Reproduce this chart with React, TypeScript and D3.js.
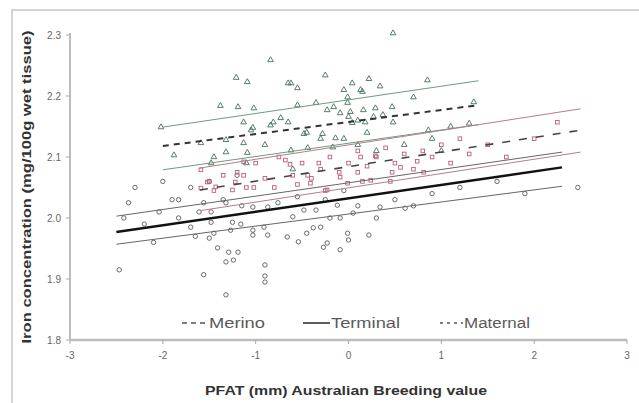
import React from "react";
import * as d3 from "d3";

// fitted lines: [x start, x end] and y at both ends
const merinoX = [-2.0, 1.4];
const merinoFit = [2.118, 2.185];
const merinoUpper = [2.149, 2.225];
const merinoLower = [2.079, 2.153];

const maternalX = [-1.6, 2.5];
const maternalFit = [2.046, 2.144];
const maternalUpper = [2.082, 2.179];
const maternalLower = [2.012, 2.108];

const terminalX = [-2.5, 2.3];
const terminalFit = [1.977, 2.083];
const terminalUpper = [2.003, 2.108];
const terminalLower = [1.957, 2.052];

// observed points [PFAT, iron]
const terminalPts = [
  [-2.47, 1.915], [-2.42, 2.0], [-2.37, 2.025], [-2.3, 2.05], [-2.2, 1.99], [-2.1, 1.96],
  [-2.04, 2.01], [-2.0, 2.06], [-1.9, 2.03], [-1.83, 2.03], [-1.83, 2.0], [-1.7, 1.985],
  [-1.7, 2.05], [-1.65, 1.97], [-1.61, 2.01], [-1.56, 2.025], [-1.56, 1.907], [-1.5, 1.967],
  [-1.48, 2.01], [-1.48, 1.993], [-1.45, 1.975], [-1.41, 1.951], [-1.35, 2.03], [-1.32, 2.025],
  [-1.32, 1.928], [-1.32, 1.874], [-1.29, 1.944], [-1.27, 1.98], [-1.25, 1.993], [-1.24, 1.931],
  [-1.19, 1.944], [-1.16, 1.99], [-1.15, 2.02], [-1.03, 2.018], [-1.03, 1.98], [-1.03, 1.972],
  [-0.91, 1.985], [-0.9, 1.923], [-0.9, 1.905], [-0.9, 1.895], [-0.87, 2.018], [-0.87, 1.972],
  [-0.76, 2.025], [-0.66, 1.969], [-0.6, 2.002], [-0.54, 1.961], [-0.55, 2.035], [-0.48, 2.013],
  [-0.45, 1.975], [-0.38, 1.984], [-0.35, 2.013], [-0.3, 1.985], [-0.27, 1.952], [-0.25, 2.03],
  [-0.23, 1.959], [-0.2, 2.0], [-0.12, 2.021], [-0.09, 2.0], [-0.09, 1.948], [0.0, 1.964],
  [-0.01, 1.975], [-0.05, 2.045], [0.05, 2.008], [0.1, 2.02], [0.22, 1.972], [0.3, 2.0],
  [0.34, 2.018], [0.5, 2.03], [0.61, 2.016], [0.7, 2.02], [0.9, 2.04], [1.2, 2.05],
  [1.6, 2.06], [1.9, 2.04], [2.47, 2.05], [-1.2, 2.07], [-1.5, 2.06],
];

const merinoPts = [
  [0.48, 2.303], [-0.84, 2.259], [-1.21, 2.23], [-1.09, 2.223], [-0.65, 2.221], [-0.55, 2.213],
  [-0.25, 2.234], [-0.05, 2.21], [0.04, 2.221], [0.13, 2.21], [0.22, 2.228], [0.34, 2.216],
  [0.47, 2.182], [0.7, 2.198], [0.85, 2.226], [-1.38, 2.184], [-1.19, 2.182], [-1.02, 2.18],
  [-1.13, 2.157], [-0.84, 2.152], [-0.73, 2.164], [-0.65, 2.157], [-1.03, 2.148], [-0.55, 2.185],
  [-0.35, 2.189], [-0.23, 2.177], [-0.16, 2.182], [-0.09, 2.172], [-0.01, 2.189], [0.0, 2.166],
  [0.04, 2.156], [0.16, 2.177], [0.27, 2.166], [0.37, 2.169], [0.48, 2.157], [0.86, 2.144],
  [-2.02, 2.149], [-1.88, 2.103], [-1.59, 2.123], [-1.1, 2.09], [-0.6, 2.08], [-0.3, 2.13],
  [0.1, 2.12], [0.3, 2.11], [0.6, 2.12], [0.9, 2.13], [1.0, 2.11], [1.1, 2.15],
  [1.3, 2.155], [1.35, 2.19], [-0.45, 2.14], [-0.9, 2.12], [-1.45, 2.1], [0.2, 2.14],
  [-0.62, 2.221], [0.15, 2.207], [-0.01, 2.198], [0.02, 2.174], [0.29, 2.18], [-0.81, 2.157],
  [0.1, 2.16], [0.18, 2.157], [-0.48, 2.138], [-0.28, 2.138], [-0.14, 2.131], [-0.05, 2.13],
  [-0.17, 2.116], [-0.62, 2.111], [-0.44, 2.115], [-1.13, 2.123], [-1.32, 2.128], [-1.09, 2.107],
  [-1.05, 2.144], [-1.32, 2.108], [-1.48, 2.09],
];

const maternalPts = [
  [-1.5, 2.06], [-1.45, 2.045], [-1.35, 2.07], [-1.2, 2.075], [-1.1, 2.05], [-1.0, 2.09],
  [-0.9, 2.065], [-0.8, 2.05], [-0.75, 2.1], [-0.6, 2.07], [-0.5, 2.09], [-0.4, 2.065],
  [-0.3, 2.08], [-0.2, 2.1], [-0.1, 2.075], [0.0, 2.09], [0.1, 2.11], [0.2, 2.085],
  [0.3, 2.1], [0.4, 2.115], [0.5, 2.09], [0.6, 2.105], [0.7, 2.08], [0.8, 2.11],
  [0.9, 2.1], [1.0, 2.12], [1.1, 2.09], [1.2, 2.13], [1.3, 2.105], [1.5, 2.12],
  [1.7, 2.1], [2.0, 2.13], [2.25, 2.157], [-0.55, 2.055], [0.15, 2.06], [0.45, 2.06],
  [-0.25, 2.045], [-0.68, 2.095], [-0.63, 2.088], [-0.32, 2.09], [0.13, 2.1], [0.29, 2.102],
  [0.47, 2.075], [0.56, 2.083], [0.74, 2.093], [0.81, 2.075], [-0.44, 2.07], [-0.41, 2.057],
  [-0.23, 2.046], [-0.01, 2.057], [0.1, 2.075], [0.24, 2.062], [-0.09, 2.067], [-1.59, 2.079],
  [-1.52, 2.059], [-1.43, 2.051], [-1.25, 2.046], [-1.22, 2.059], [-1.13, 2.07], [-1.59, 2.049],
  [-1.02, 2.05], [-1.13, 2.092],
];

const xTicks = [-3, -2, -1, 0, 1, 2, 3];
const yTicks = [1.8, 1.9, 2.0, 2.1, 2.2, 2.3];

const legendNames = ["Merino", "Terminal", "Maternal"];

export default function App() {
  const x = d3.scaleLinear().domain([-3, 3]).range([70, 627]);
  const y = d3.scaleLinear().domain([1.8, 2.3]).range([340, 35]);

  const seg = (xs: number[], ys: number[]) =>
    d3.line<number>().x((d) => x(xs[d])).y((d) => y(ys[d]))([0, 1]) || "";

  const tri = d3.symbol().type(d3.symbolTriangle).size(14)() || "";

  return (
    <svg width={639} height={403} style={{ position: "absolute", left: 0, top: 0, background: "#fff" }}
      fontFamily="Liberation Sans, Arial, sans-serif">
      <rect x={12} y={10} width={640} height={400} fill="none" stroke="#d4d4d4" strokeWidth={2} />

      {/* points */}
      <g fill="none" strokeWidth={0.9}>
        {terminalPts.map((d, i) => (
          <circle key={"t" + i} cx={x(d[0])} cy={y(d[1])} r={2.2} stroke="#5a5a5a" />
        ))}
        {merinoPts.map((d, i) => (
          <path key={"m" + i} d={tri} transform={`translate(${x(d[0])},${y(d[1])})`} stroke="#44705a" />
        ))}
        {maternalPts.map((d, i) => (
          <rect key={"r" + i} x={x(d[0]) - 1.8} y={y(d[1]) - 1.8} width={3.6} height={3.6} stroke="#bb5c7c" />
        ))}
      </g>

      {/* confidence lines */}
      <g fill="none" strokeWidth={1}>
        <path d={seg(merinoX, merinoUpper)} stroke="#6f9a7e" />
        <path d={seg(merinoX, merinoLower)} stroke="#6f9a7e" />
        <path d={seg(maternalX, maternalUpper)} stroke="#b07e8c" />
        <path d={seg(maternalX, maternalLower)} stroke="#b07e8c" />
        <path d={seg(terminalX, terminalUpper)} stroke="#666" />
        <path d={seg(terminalX, terminalLower)} stroke="#666" />
      </g>

      {/* fitted lines */}
      <path d={seg(merinoX, merinoFit)} fill="none" stroke="#333" strokeWidth={2} strokeDasharray="6,5" />
      <path d={seg(maternalX, maternalFit)} fill="none" stroke="#444" strokeWidth={1.6} strokeDasharray="8,9" />
      <path d={seg(terminalX, terminalFit)} fill="none" stroke="#111" strokeWidth={2.4} />

      {/* axes */}
      <line x1={x(-3)} x2={x(-3)} y1={y(2.3) - 2} y2={y(1.8)} stroke="#bdbdbd" strokeWidth={2} />
      <line x1={x(-3)} x2={x(3)} y1={y(1.8)} y2={y(1.8)} stroke="#bdbdbd" strokeWidth={2.5} />
      {yTicks.map((t) => (
        <g key={"yt" + t}>
          <line x1={x(-3) - 4} x2={x(-3)} y1={y(t)} y2={y(t)} stroke="#aaa" />
          <text x={x(-3) - 9} y={y(t)} dy="0.35em" textAnchor="end" fontSize={10} fill="#666">
            {t.toFixed(1)}
          </text>
        </g>
      ))}
      {xTicks.map((t) => (
        <g key={"xt" + t}>
          <line x1={x(t)} x2={x(t)} y1={y(1.8)} y2={y(1.8) + 4} stroke="#aaa" />
          <text x={x(t)} y={y(1.8) + 19} textAnchor="middle" fontSize={10} fill="#666">
            {t}
          </text>
        </g>
      ))}

      {/* legend */}
      <g fontSize={14} fill="#5a5a5a">
        <line x1={182} x2={205} y1={323} y2={323} stroke="#555" strokeWidth={1.3} strokeDasharray="5,4" />
        <text x={209} y={328} textLength={56} lengthAdjust="spacingAndGlyphs">{legendNames[0]}</text>
        <line x1={303} x2={330} y1={323} y2={323} stroke="#333" strokeWidth={1.6} />
        <text x={331} y={328} textLength={69} lengthAdjust="spacingAndGlyphs">{legendNames[1]}</text>
        <line x1={440} x2={463} y1={323} y2={323} stroke="#555" strokeWidth={1.3} strokeDasharray="3,4" />
        <text x={464} y={328} textLength={66} lengthAdjust="spacingAndGlyphs">{legendNames[2]}</text>
      </g>

      {/* titles */}
      <text x={346} y={395} textAnchor="middle" fontSize={13} fontWeight="bold" fill="#333"
        textLength={282} lengthAdjust="spacingAndGlyphs">
        PFAT (mm) Australian Breeding value
      </text>
      <text transform="translate(31,187) rotate(-90)" textAnchor="middle" fontSize={13} fontWeight="bold" fill="#333"
        textLength={313} lengthAdjust="spacingAndGlyphs">
        Iron concentration (mg/100g wet tissue)
      </text>
    </svg>
  );
}
